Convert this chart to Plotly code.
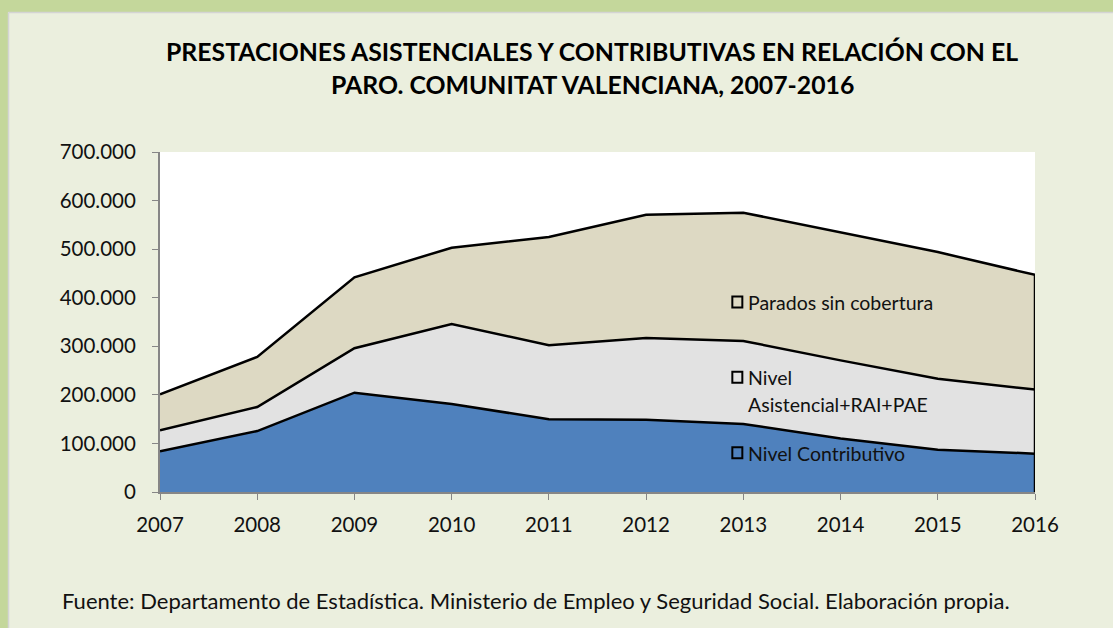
import plotly.graph_objects as go

years = [2007, 2008, 2009, 2010, 2011, 2012, 2013, 2014, 2015, 2016]
contributivo = [84000, 125500, 204500, 181000, 150000, 149000, 140000, 110000, 87000, 79000]
asistencial = [43000, 49500, 91500, 165000, 152000, 168000, 171000, 161000, 146000, 132000]
sin_cobertura = [74000, 103000, 146000, 157000, 223000, 254000, 264000, 264000, 261000, 236000]

series_names = ["Nivel Contributivo", "Nivel Asistencial+RAI+PAE", "Parados sin cobertura"]
fill_colors = ["#4F81BD", "#E2E2E2", "#DDD9C3"]

title_lines = ["PRESTACIONES ASISTENCIALES Y CONTRIBUTIVAS EN RELACIÓN CON EL",
               "PARO. COMUNITAT VALENCIANA, 2007-2016"]
footer = "Fuente: Departamento de Estadística. Ministerio de Empleo y Seguridad Social. Elaboración propia."

FONT = "Lato, 'Open Sans', sans-serif"
W, H = 1113, 628
L, R, T, B = 160, 1035, 152, 492
PW, PH = R - L, B - T

def px(x):
    return (x - L) / PW

def py(y):
    return (B - y) / PH

fig = go.Figure()
for name, vals, col in zip(series_names, [contributivo, asistencial, sin_cobertura], fill_colors):
    fig.add_trace(go.Scatter(
        x=years, y=vals, name=name, mode="lines", stackgroup="one",
        line=dict(color="black", width=2.5), fillcolor=col,
        showlegend=False, hoverinfo="skip"))

total_last = contributivo[-1] + asistencial[-1] + sin_cobertura[-1]
fig.add_trace(go.Scatter(x=[years[-1], years[-1]], y=[0, total_last], mode="lines",
                         line=dict(color="black", width=2.5), showlegend=False,
                         cliponaxis=False, hoverinfo="skip"))

shapes = [
    dict(type="rect", xref="paper", yref="paper", x0=px(0), x1=px(8), y0=py(H), y1=py(0),
         fillcolor="#C4D79B", line=dict(width=0), layer="below"),
    dict(type="rect", xref="paper", yref="paper", x0=px(0), x1=px(W), y0=py(12), y1=py(0),
         fillcolor="#C4D79B", line=dict(width=0), layer="below"),
    dict(type="line", xref="paper", yref="paper", x0=px(8.5), x1=px(8.5), y0=py(H), y1=py(12.5),
         line=dict(color="#D4D4D4", width=1.5)),
    dict(type="line", xref="paper", yref="paper", x0=px(8.5), x1=px(W), y0=py(12.5), y1=py(12.5),
         line=dict(color="#D4D4D4", width=1.5)),
]

label_specs = [
    (390000, "Parados sin cobertura", True),
    (235000, "Nivel", True),
    (180000, "Asistencial+RAI+PAE", False),
    (80000, "Nivel Contributivo", True),
]
annotations = []
for yv, txt, sq in label_specs:
    annotations.append(dict(x=years[6], y=yv, xref="x", yref="y", text=txt, showarrow=False,
                            xanchor="left", yanchor="middle", xshift=3,
                            font=dict(family=FONT, size=19.5, color="#111")))
    if sq:
        shapes.append(dict(type="rect", xref="x", yref="y", xsizemode="pixel", ysizemode="pixel",
                           xanchor=years[6], yanchor=yv, x0=-11, x1=-1, y0=-5, y1=6,
                           line=dict(color="black", width=2), fillcolor="rgba(0,0,0,0)"))

annotations.append(dict(x=px(592), y=py(52), xref="paper", yref="paper", text="<b>%s</b>" % title_lines[0],
                        showarrow=False, xanchor="center", yanchor="middle",
                        font=dict(family=FONT, size=24.8, color="black")))
annotations.append(dict(x=px(592), y=py(84), xref="paper", yref="paper", text="<b>%s</b>" % title_lines[1],
                        showarrow=False, xanchor="center", yanchor="middle",
                        font=dict(family=FONT, size=24.8, color="black")))
annotations.append(dict(x=px(60), y=py(600), xref="paper", yref="paper", text=footer,
                        showarrow=False, xanchor="left", yanchor="middle",
                        font=dict(family=FONT, size=22, color="#111")))

fig.update_layout(
    width=W, height=H,
    margin=dict(l=L, r=W - R, t=T, b=H - B, pad=0),
    paper_bgcolor="#EBEFDE", plot_bgcolor="white",
    separators=",.",
    shapes=shapes, annotations=annotations,
    showlegend=False,
    xaxis=dict(range=[years[0], years[-1]], tickvals=years, ticks="outside", ticklen=6,
               tickcolor="#868686", showline=True, linecolor="#868686", linewidth=2,
               showgrid=False, zeroline=False, ticklabelstandoff=7,
               tickfont=dict(family=FONT, size=20.5, color="#111")),
    yaxis=dict(range=[0, 700000], dtick=100000, tickformat=",.0f", ticks="outside", ticklen=6,
               tickcolor="#868686", showline=True, linecolor="#868686", linewidth=2,
               showgrid=False, zeroline=False, ticklabelstandoff=12,
               tickfont=dict(family=FONT, size=20.5, color="#111")),
)

fig.write_html("out.html", config={"displayModeBar": False},
               post_script="document.body.style.margin='0';document.body.style.background='#EBEFDE';")
